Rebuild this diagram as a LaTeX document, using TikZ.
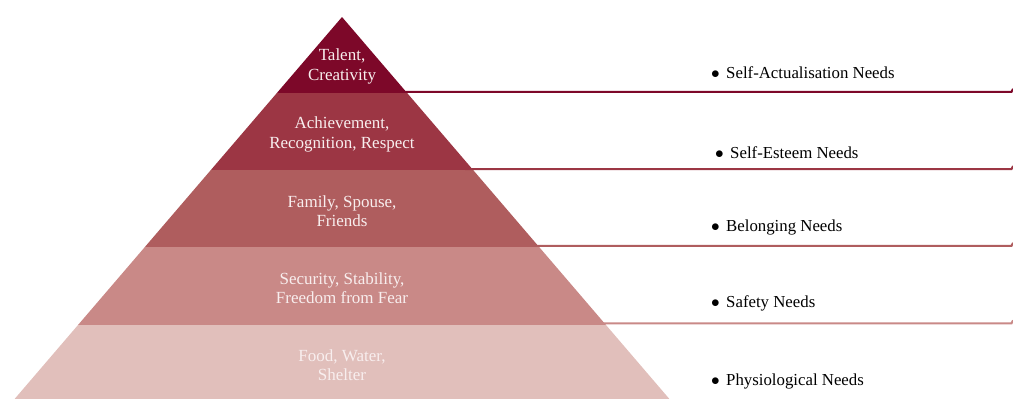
\documentclass[tikz,border=0pt]{standalone}
\usepackage{fontspec}
\setmainfont{Liberation Serif}
\definecolor{cA}{HTML}{7D0829}
\definecolor{cB}{HTML}{9C3644}
\definecolor{cC}{HTML}{AF5D5E}
\definecolor{cD}{HTML}{C98987}
\definecolor{cE}{HTML}{E1BFBB}
\definecolor{ptxt}{HTML}{F8EEEE}
\tikzset{
  plabel/.style={text=ptxt, align=center, font=\fontsize{17}{19.2}\selectfont, inner sep=0pt},
  rlabel/.style={text=black, anchor=west, font=\fontsize{16.8}{19}\selectfont, inner sep=0pt},
  bar/.style={line width=2pt, line cap=butt, line join=miter},
}
\newcommand{\bul}{\makebox[15pt][l]{$\bullet$}}
\begin{document}
\begin{tikzpicture}[x=1pt,y=-1pt]
\useasboundingbox (0,0) rectangle (1013,399);
\begin{scope}
  \clip (342,17) -- (14.6,399) -- (669.4,399) -- cycle;
  \fill[cA] (0,0) rectangle (1013,93);
  \fill[cB] (0,93) rectangle (1013,170);
  \fill[cC] (0,170) rectangle (1013,247);
  \fill[cD] (0,247) rectangle (1013,325);
  \fill[cE] (0,325) rectangle (1013,400);
\end{scope}
% connectors
\coordinate (a0) at (400,91.8);  \coordinate (a1) at (1011.5,91.8);
\coordinate (b0) at (465,169);   \coordinate (b1) at (1011.5,169);
\coordinate (c0) at (530,245.8); \coordinate (c1) at (1011.5,245.8);
\coordinate (d0) at (597,323.3); \coordinate (d1) at (1011.5,323.3);
\draw[bar,cA] (a0) -- (a1) -- ++(1.5,-3);
\draw[bar,cB] (b0) -- (b1) -- ++(1.5,-3);
\draw[bar,cC] (c0) -- (c1) -- ++(1.5,-3);
\draw[bar,cD] (d0) -- (d1) -- ++(1.5,-3);
% pyramid labels
\node[plabel] (p1) at (342,66.5) {Talent,\\Creativity};
\node[plabel] (p2) at (342,134.5) {Achievement,\\Recognition, Respect};
\node[plabel] (p3) at (342,211) {Family, Spouse,\\Friends};
\node[plabel] (p4) at (342,288) {Security, Stability,\\Freedom from Fear};
\node[plabel] (p5) at (342,365.5) {Food, Water,\\Shelter};
% right labels
\node[rlabel] (r1) at (711,73) {\bul Self-Actualisation Needs};
\node[rlabel] (r2) at (715,153) {\bul Self-Esteem Needs};
\node[rlabel] (r3) at (711,227) {\bul Belonging Needs};
\node[rlabel] (r4) at (711,303) {\bul Safety Needs};
\node[rlabel] (r5) at (711,381) {\bul Physiological Needs};
\end{tikzpicture}
\end{document}
